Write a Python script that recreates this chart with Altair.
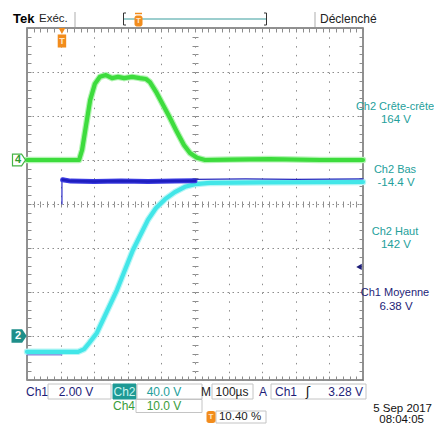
import altair as alt
import pandas as pd

# ---------------- trace data (screen divisions: x 0..10, y -4..4) ----------------
ch4_t = [0.0, 1.55, 1.64, 1.76, 1.88, 2.02, 2.17, 2.35, 2.53, 2.71, 2.89, 3.13, 3.36, 3.54,
         3.66, 3.84, 4.05, 4.26, 4.46, 4.67, 4.85, 5.06, 5.30, 6.04, 7.23, 8.72, 10.0]
ch4_v = [1.0, 1.0, 1.23, 1.80, 2.36, 2.73, 2.89, 2.93, 2.86, 2.89, 2.86, 2.89, 2.86, 2.84,
         2.77, 2.55, 2.25, 1.95, 1.64, 1.34, 1.16, 1.05, 1.0, 1.01, 1.02, 1.0, 1.0]

ch2_t = [0.0, 1.52, 1.70, 1.85, 2.08, 2.68, 3.15, 3.60, 3.84, 4.11, 4.40, 4.70, 5.00, 5.45, 6.93, 10.0]
ch2_v = [-3.36, -3.36, -3.30, -3.16, -2.93, -1.95, -1.05, -0.36, -0.09, 0.11, 0.27, 0.39, 0.45, 0.48, 0.49, 0.50]

ch1_pre_t = [0.0, 1.04]
ch1_pre_v = [-3.43, -3.43]
ch1_rise_t = [1.04, 1.04]
ch1_rise_v = [0.0, 0.52]
ch1_t = [1.06, 1.3, 2.0, 2.8, 3.6, 4.4, 5.0]
ch1_v = [0.55, 0.52, 0.51, 0.52, 0.51, 0.52, 0.53]
ch1_tail_t = [5.0, 6.5, 8.0, 10.0]
ch1_tail_v = [0.56, 0.57, 0.56, 0.57]

ground_labels = ["4", "2"]
ground_levels = [1.0, -3.0]
trig_pos_pct = 10.40
trig_level_div = -1.43

# ---------------- texts ----------------
header_texts = ["Tek", "Exéc.", "Déclenché"]
meas_titles = ["Ch2 Crête-crête", "Ch2 Bas", "Ch2 Haut", "Ch1 Moyenne"]
meas_values = ["164 V", "-14.4 V", "142 V", "6.38 V"]
ch_names = ["Ch1", "Ch2", "Ch4"]
ch_scales = ["2.00 V", "40.0 V", "10.0 V"]
timebase = ["M", "100µs"]
trigger = ["A", "Ch1", "ʃ", "3.28 V"]
trig_pos_text = "10.40 %"
date_texts = ["5 Sep  2017", "08:04:05"]

# ---------------- styles ----------------
FONT = "Liberation Sans"
NAVY = "#1d1d78"
TEAL = "#24a09b"
GREEN4 = "#3a9c3a"
ORANGE = "#f28c1c"
GRIDC = "#8c8c8c"
W, H = 336, 352
OX, OY = 27, 28  # page position of plot origin

xs = alt.Scale(domain=[0, 10], nice=False, zero=False)
ys = alt.Scale(domain=[-4, 4], nice=False, zero=False)


def frame(t, v):
    return pd.DataFrame({"t": t, "v": v, "i": list(range(len(t)))})


def trace(df, color, width, opacity=1.0):
    return alt.Chart(df).mark_line(color=color, strokeWidth=width, opacity=opacity,
                                   strokeCap="round", strokeJoin="round").encode(
        x=alt.X("t:Q", scale=xs, axis=None),
        y=alt.Y("v:Q", scale=ys, axis=None),
        order=alt.Order("i:Q"))


anchor = pd.DataFrame({"t": [0.0], "v": [0.0]})


def axis_layer(xaxis, yaxis):
    return alt.Chart(anchor).mark_point(opacity=0).encode(
        x=alt.X("t:Q", scale=xs, axis=xaxis, title=None),
        y=alt.Y("v:Q", scale=ys, axis=yaxis, title=None))


minor_x = [round(i * 0.2, 1) for i in range(51)]
minor_y = [round(-4 + i * 0.2, 1) for i in range(41)]


def tick_axis(orient, offset, values, size):
    return alt.Axis(orient=orient, offset=offset, values=values, ticks=True, tickSize=size,
                    tickColor=GRIDC, tickWidth=1, labels=False, domain=False, grid=False)


grid_x = alt.Axis(orient="bottom", values=list(range(11)), grid=True, gridColor=GRIDC,
                  gridDash=[1.5, 7.3], gridWidth=1, ticks=False, labels=False, domain=False)
grid_y = alt.Axis(orient="left", values=list(range(-4, 5)), grid=True, gridColor=GRIDC,
                  gridDash=[1.5, 3.5], gridWidth=1, ticks=False, labels=False, domain=False)

one = pd.DataFrame({"k": [0]})


def txt(s, px, py, color, size=12, weight="normal", align="center", font=FONT):
    return alt.Chart(one).mark_text(text=s, color=color, fontSize=size, fontWeight=weight,
                                    align=align, baseline="middle", font=font).encode(
        x=alt.value(px - OX), y=alt.value(py - OY))


def box(x1, y1, x2, y2, fill="white", stroke="#c4c4c4", radius=0):
    return alt.Chart(one).mark_rect(fill=fill, stroke=stroke, strokeWidth=1, cornerRadius=radius).encode(
        x=alt.value(x1 - OX), x2=alt.value(x2 - OX), y=alt.value(y1 - OY), y2=alt.value(y2 - OY))


def rule(x1, y1, x2, y2, color, w=1.0):
    return alt.Chart(one).mark_rule(color=color, strokeWidth=w).encode(
        x=alt.value(x1 - OX), x2=alt.value(x2 - OX), y=alt.value(y1 - OY), y2=alt.value(y2 - OY))


layers = [
    axis_layer(grid_x, grid_y),
    axis_layer(tick_axis("bottom", -H, minor_x, 4), tick_axis("right", -W, minor_y, 4)),
    axis_layer(tick_axis("top", -H, minor_x, 4), tick_axis("left", -W, minor_y, 4)),
    axis_layer(tick_axis("bottom", -H / 2, minor_x, 3), tick_axis("left", -W / 2, minor_y, 3)),
    axis_layer(tick_axis("top", -H / 2, minor_x, 3), tick_axis("right", -W / 2, minor_y, 3)),
]

# traces
g = frame(ch4_t, ch4_v)
c = frame(ch2_t, ch2_v)
layers += [
    trace(g, "#b4f4b4", 6.5),
    trace(g, "#3ddc3d", 4.2),
    trace(c, "#b8f6f6", 6.5),
    trace(c, "#42e6e8", 4.2),
    trace(frame(ch1_pre_t, ch1_pre_v), "#6a6ad6", 1.0),
    trace(frame(ch1_rise_t, ch1_rise_v), "#2a2ac8", 1.2),
    trace(frame(ch1_t, ch1_v), "#3a3ae0", 5.0),
    trace(frame(ch1_t, ch1_v), "#1e1ebe", 2.5),
    trace(frame(ch1_tail_t, ch1_tail_v), "#2a2abe", 1.3),
]

# ground markers (left)
shape_path = "M -1 -0.9 L 0.4 -0.9 L 1 0 L 0.4 0.9 L -1 0.9 Z"
g4 = pd.DataFrame({"v": [ground_levels[0]], "lab": [ground_labels[0]]})
g2 = pd.DataFrame({"v": [ground_levels[1]], "lab": [ground_labels[1]]})
layers += [
    alt.Chart(g4).mark_point(shape=shape_path, size=169, filled=True, fill="white",
                             stroke="#46b446", strokeWidth=1.2, opacity=1).encode(
        x=alt.value(-8), y=alt.Y("v:Q", scale=ys, axis=None)),
    alt.Chart(g4).mark_text(color="#2f9a2f", fontSize=11, font=FONT, fontWeight="bold",
                            baseline="middle", dx=-1).encode(
        x=alt.value(-8), y=alt.Y("v:Q", scale=ys, axis=None), text="lab:N"),
    alt.Chart(g2).mark_point(shape=shape_path, size=169, filled=True, fill="#1f8f8a",
                             stroke="#1f8f8a", opacity=1).encode(
        x=alt.value(-8), y=alt.Y("v:Q", scale=ys, axis=None)),
    alt.Chart(g2).mark_text(color="white", fontSize=11, font=FONT, fontWeight="bold",
                            baseline="middle", dx=-1).encode(
        x=alt.value(-8), y=alt.Y("v:Q", scale=ys, axis=None), text="lab:N"),
]

# trigger position marker (top) and trigger level arrow (right)
tp = pd.DataFrame({"t": [trig_pos_pct / 10.0]})
layers += [
    alt.Chart(tp).mark_point(shape="triangle-down", size=45, filled=True, color=ORANGE, opacity=1).encode(
        x=alt.X("t:Q", scale=xs, axis=None), y=alt.value(3)),
    alt.Chart(tp).mark_point(shape="M -0.65 -1 L 0.65 -1 L 0.65 1 L -0.65 1 Z", size=170,
                             filled=True, color=ORANGE, opacity=1).encode(
        x=alt.X("t:Q", scale=xs, axis=None), y=alt.value(13)),
    alt.Chart(tp).mark_text(text="T", color="#ffe6c8", fontSize=9, fontWeight="bold",
                            font=FONT, baseline="middle").encode(
        x=alt.X("t:Q", scale=xs, axis=None), y=alt.value(13)),
    alt.Chart(pd.DataFrame({"v": [trig_level_div]})).mark_point(
        shape="triangle-left", size=40, filled=True, color=NAVY, opacity=1).encode(
        x=alt.value(W - 4), y=alt.Y("v:Q", scale=ys, axis=None)),
]

# header
layers += [
    txt(header_texts[0], 13, 18.5, "black", size=13, weight="bold", align="left"),
    txt(header_texts[1], 39, 18.5, "#222222", size=11.5, align="left"),
    txt(header_texts[2], 320, 18.5, "#222222", size=12, align="left"),
    rule(75, 12, 75, 27, "#c8c8c8", 1.5),
    rule(315, 12, 315, 27, "#c8c8c8", 1.5),
    rule(124, 19, 266, 19, "#3a9e9e", 1.2),
    rule(123.5, 13, 123.5, 25, "#333333", 1),
    rule(123.5, 13, 126, 13, "#333333", 1),
    rule(123.5, 25, 126, 25, "#333333", 1),
    rule(266.5, 13, 266.5, 25, "#333333", 1),
    rule(264, 13, 266.5, 13, "#333333", 1),
    rule(264, 25, 266.5, 25, "#333333", 1),
    rule(135, 13.5, 142, 13.5, ORANGE, 1.5),
    box(135, 16, 142, 26, fill=ORANGE, stroke=ORANGE, radius=1.5),
    txt("T", 138.5, 21, "#ffe6c8", size=8, weight="bold"),
]

# right measurements
meas_y = [(107, 120), (170, 183), (232, 245), (293, 307)]
meas_col = [TEAL, TEAL, TEAL, NAVY]
for ttl, val, (y1, y2), col in zip(meas_titles, meas_values, meas_y, meas_col):
    layers += [txt(ttl, 395, y1, col, size=11), txt(val, 396, y2, col, size=11.5)]

# bottom readouts
R1, R2, R3 = 391.5, 406, 417
layers += [
    box(48, 384, 111, 399),
    box(113, 384, 136, 399, fill="#1e9a95", stroke="#1e9a95"),
    box(137, 384, 202, 399),
    box(212, 384, 253, 399),
    box(271, 384, 366, 399),
    box(136, 399.5, 202, 412.5),
    box(216, 411, 266, 423),
    box(207, 411.5, 215, 422.5, fill=ORANGE, stroke=ORANGE, radius=1.5),
    txt("T", 211, R3, "#ffe6c8", size=8, weight="bold"),
    txt(ch_names[0], 37, R1, NAVY),
    txt(ch_scales[0], 76, R1, NAVY),
    txt(ch_names[1], 124.5, R1, "#c8f6f2"),
    txt(ch_scales[1], 164, R1, TEAL),
    txt(timebase[0], 206, R1, "#222222"),
    txt(timebase[1], 232, R1, "#222222"),
    txt(trigger[0], 263, R1, NAVY),
    txt(trigger[1], 286, R1, NAVY),
    txt(trigger[2], 308, R1, "#111111", size=13, font="DejaVu Sans"),
    txt(trigger[3], 363, R1, NAVY, align="right"),
    txt(ch_names[2], 124, R2, GREEN4),
    txt(ch_scales[2], 164, R2, GREEN4),
    txt(trig_pos_text, 240, R3, "#222222", size=11.5),
    txt(date_texts[0], 432, 409, "#111111", size=11.5, align="right"),
    txt(date_texts[1], 424, 419.5, "#111111", size=11.5, align="right"),
]

chart = alt.layer(*layers).resolve_axis(x="independent", y="independent").properties(
    width=W, height=H,
    padding={"left": OX - 8, "top": OY - 8, "right": 434 - OX - W, "bottom": 424 - OY - H},
    autosize=alt.AutoSizeParams(type="none"),
    background="white",
).configure_view(stroke="#6e6e6e", strokeWidth=1.5)

chart.save("out.html", embed_options={"renderer": "svg", "actions": False})
